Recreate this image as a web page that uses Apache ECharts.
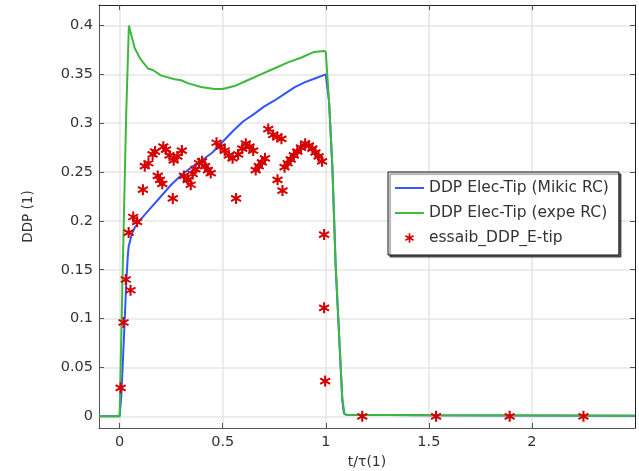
<!DOCTYPE html>
<html>
<head>
<meta charset="utf-8">
<script src="https://cdn.jsdelivr.net/npm/echarts@6/dist/echarts.min.js"></script>
<style>
html,body{margin:0;padding:0;background:#fff;}
#c{width:639px;height:471px;}
</style>
</head>
<body>
<div id="c"></div>
<script>
// ---- data ----
var xTicks = [0, 0.5, 1, 1.5, 2];
var yTicks = [0, 0.05, 0.1, 0.15, 0.2, 0.25, 0.3, 0.35, 0.4];

var mikicT   = [-0.1, 0, 0.008, 0.024, 0.032, 0.04, 0.044, 0.06, 0.073, 0.1, 0.15, 0.2, 0.25, 0.3, 0.35, 0.4, 0.45, 0.5, 0.55, 0.6, 0.65, 0.7, 0.75, 0.8, 0.85, 0.9, 0.95, 1.0, 1.016, 1.032, 1.048, 1.064, 1.08, 1.088, 1.1, 1.5, 2.0, 2.5];
var mikicDDP = [0, 0, 0.02, 0.095, 0.136, 0.165, 0.174, 0.187, 0.193, 0.201, 0.213, 0.225, 0.237, 0.247, 0.255, 0.262, 0.27, 0.281, 0.292, 0.302, 0.309, 0.317, 0.323, 0.33, 0.337, 0.342, 0.346, 0.35, 0.322, 0.255, 0.153, 0.085, 0.017, 0.003, 0.0015, 0.001, 0.0008, 0.0005];

var expeT   = [-0.1, 0, 0.016, 0.032, 0.045, 0.073, 0.1, 0.137, 0.161, 0.2, 0.266, 0.298, 0.33, 0.395, 0.46, 0.5, 0.557, 0.621, 0.685, 0.75, 0.814, 0.879, 0.944, 0.99, 1.0, 1.016, 1.032, 1.048, 1.064, 1.08, 1.09, 1.1, 1.5, 2.0, 2.5];
var expeDDP = [0, 0, 0.16, 0.31, 0.4, 0.377, 0.366, 0.356, 0.3545, 0.349, 0.345, 0.344, 0.341, 0.337, 0.335, 0.335, 0.338, 0.344, 0.35, 0.356, 0.362, 0.367, 0.373, 0.374, 0.373, 0.322, 0.256, 0.155, 0.087, 0.019, 0.003, 0.0015, 0.001, 0.0008, 0.0005];

var essaibT   = [0.005, 0.019, 0.030, 0.053, 0.044, 0.066, 0.085, 0.113, 0.122, 0.140, 0.160, 0.172, 0.212, 0.225, 0.242, 0.262, 0.280, 0.302, 0.185, 0.196, 0.207, 0.258, 0.312, 0.330, 0.345, 0.355, 0.368, 0.385, 0.400, 0.415, 0.428, 0.442, 0.470, 0.490, 0.510, 0.530, 0.548, 0.565, 0.575, 0.595, 0.612, 0.630, 0.648, 0.660, 0.675, 0.690, 0.705, 0.721, 0.745, 0.765, 0.785, 0.766, 0.790, 0.800, 0.815, 0.830, 0.845, 0.862, 0.880, 0.900, 0.918, 0.935, 0.950, 0.965, 0.982, 0.992, 0.992, 0.997, 1.177, 1.535, 1.892, 2.250];
var essaibDDP = [0.029, 0.096, 0.140, 0.129, 0.188, 0.204, 0.199, 0.232, 0.256, 0.259, 0.268, 0.271, 0.276, 0.273, 0.267, 0.262, 0.266, 0.272, 0.246, 0.242, 0.238, 0.223, 0.246, 0.242, 0.237, 0.248, 0.253, 0.259, 0.261, 0.256, 0.252, 0.249, 0.280, 0.276, 0.272, 0.267, 0.264, 0.223, 0.268, 0.274, 0.279, 0.276, 0.272, 0.252, 0.256, 0.260, 0.264, 0.294, 0.288, 0.286, 0.284, 0.242, 0.231, 0.255, 0.259, 0.263, 0.267, 0.271, 0.275, 0.279, 0.277, 0.274, 0.270, 0.266, 0.261, 0.186, 0.111, 0.036, 0, 0, 0, 0];

var seriesNames = ['DDP Elec-Tip (Mikic RC)', 'DDP Elec-Tip (expe RC)', 'essaib_DDP_E-tip'];

function pairs(xs, ys) { return xs.map(function (x, i) { return [x, ys[i]]; }); }

var FONT = 'DejaVu Sans';
var asteriskBody = 'M-0.18,-1L0.18,-1L0.18,1L-0.18,1Z' +
  'M0.776,-0.656L0.956,-0.344L-0.776,0.656L-0.956,0.344Z' +
  'M0.956,0.344L0.776,0.656L-0.956,-0.344L-0.776,-0.656Z';
var asterisk = 'path://' + asteriskBody;
// legend version: padded bounding box so the glyph stays small
var asteriskLegend = 'path://' + asteriskBody + 'M-1.5,-1.5L-1.5,-1.5L-1.5,-1.5ZM1.5,1.5L1.5,1.5L1.5,1.5Z';
var lineIcon = 'path://M0,0L30,0L30,2L0,2Z';

var axisLineStyle = { color: '#555', width: 1 };

var chart = echarts.init(document.getElementById('c'), null, { renderer: 'canvas' });
chart.setOption({
  animation: false,
  backgroundColor: '#fff',
  grid: { left: 99, right: 4, top: 5, bottom: 43, containLabel: false, outerBoundsMode: 'none' },
  legend: {
    orient: 'vertical',
    left: 388, top: 172,
    padding: [8, 10, 9, 7],
    itemWidth: 29, itemHeight: 14, itemGap: 9,
    backgroundColor: '#fff',
    borderColor: '#111', borderWidth: 1, borderRadius: 0,
    shadowColor: 'rgba(0,0,0,0.6)', shadowBlur: 1, shadowOffsetX: 2, shadowOffsetY: 2,
    textStyle: { fontFamily: FONT, fontSize: 15.5, color: '#333' },
    data: [
      { name: seriesNames[0], icon: lineIcon },
      { name: seriesNames[1], icon: lineIcon },
      { name: seriesNames[2], icon: asteriskLegend }
    ]
  },
  xAxis: [{
    type: 'value', position: 'bottom', min: -0.1, max: 2.5,
    name: 't/τ(1)', nameLocation: 'middle', nameGap: 25,
    nameTextStyle: { fontFamily: FONT, fontSize: 14, color: '#333' },
    axisLine: { show: true, onZero: false, lineStyle: axisLineStyle },
    axisTick: { show: true, inside: true, length: 5, customValues: xTicks, lineStyle: { color: '#555' } },
    axisLabel: { customValues: xTicks, margin: 7, fontFamily: FONT, fontSize: 14.5, color: '#333' },
    splitLine: { show: true, lineStyle: { color: '#e6e6e6', width: 1.5 } }
  }, {
    type: 'value', position: 'top', min: -0.1, max: 2.5,
    axisLine: { show: true, onZero: false, lineStyle: { color: '#222', width: 1 } },
    axisTick: { show: true, inside: true, length: 5, customValues: xTicks, lineStyle: { color: '#555' } },
    axisLabel: { show: false },
    splitLine: { show: false }
  }],
  yAxis: [{
    type: 'value', position: 'left', min: -0.012, max: 0.421,
    name: 'DDP (1)', nameLocation: 'middle', nameGap: 64,
    nameTextStyle: { fontFamily: FONT, fontSize: 13.5, color: '#333' },
    axisLine: { show: true, onZero: false, lineStyle: axisLineStyle },
    axisTick: { show: true, inside: true, length: 5, customValues: yTicks, lineStyle: { color: '#555' } },
    axisLabel: { customValues: yTicks, margin: 6, fontFamily: FONT, fontSize: 14.5, color: '#333' },
    splitLine: { show: true, lineStyle: { color: '#e6e6e6', width: 1.5 } }
  }, {
    type: 'value', position: 'right', min: -0.012, max: 0.421,
    axisLine: { show: true, onZero: false, lineStyle: { color: '#222', width: 1 } },
    axisTick: { show: true, inside: true, length: 5, customValues: yTicks, lineStyle: { color: '#555' } },
    axisLabel: { show: false },
    splitLine: { show: false }
  }],
  series: [{
    name: seriesNames[0], type: 'line', xAxisIndex: 0, yAxisIndex: 0,
    data: pairs(mikicT, mikicDDP), showSymbol: false, symbol: 'none',
    lineStyle: { color: '#3355ff', width: 2 }, itemStyle: { color: '#3355ff' }, z: 3
  }, {
    name: seriesNames[1], type: 'line', xAxisIndex: 0, yAxisIndex: 0,
    data: pairs(expeT, expeDDP), showSymbol: false, symbol: 'none',
    lineStyle: { color: '#3cb93c', width: 2 }, itemStyle: { color: '#3cb93c' }, z: 3
  }, {
    name: seriesNames[2], type: 'scatter', xAxisIndex: 0, yAxisIndex: 0,
    data: pairs(essaibT, essaibDDP), symbol: asterisk, symbolSize: [11, 11],
    itemStyle: { color: '#d40000', opacity: 1 }, z: 4
  }]
});
</script>
</body>
</html>
